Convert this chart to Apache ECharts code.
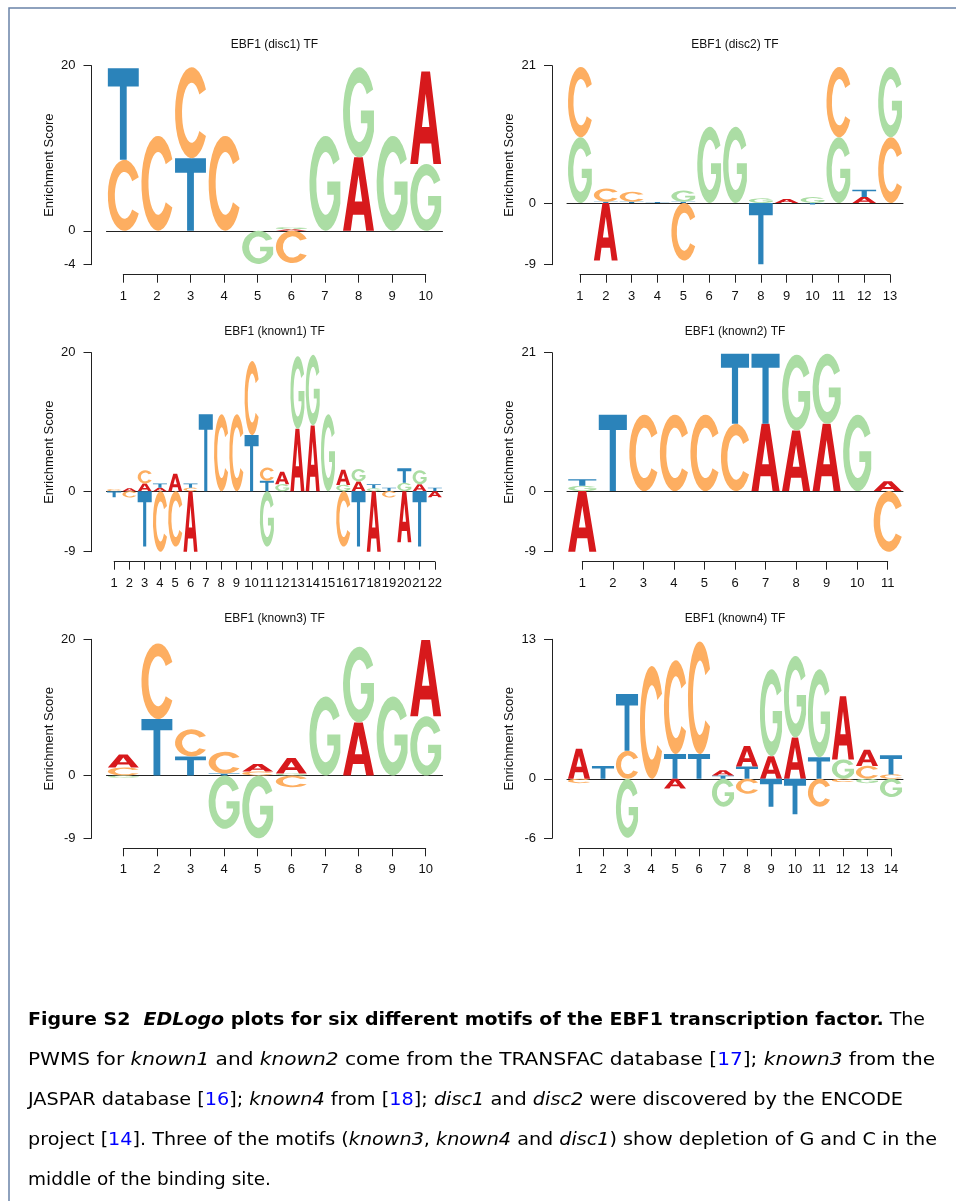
<!DOCTYPE html>
<html>
<head>
<meta charset="utf-8">
<script src="https://cdn.jsdelivr.net/npm/echarts@6/dist/echarts.min.js"></script>
<style>
html, body { margin: 0; padding: 0; background: #fff; }
#main { width: 956px; height: 1201px; }
</style>
</head>
<body>
<div id="main"></div>
<script>
// enrichment score of each letter per position (negative = depleted, drawn below 0)
var disc1A = [0, 0, 0, 0, 0, 0.2, 0, 8.9, 0, 11.2];
var disc1C = [8.6, 11.5, 11.0, 11.5, 0, -3.9, 0, 0, 0, 0];
var disc1G = [0, 0, 0, 0, -4.0, 0.25, 11.5, 10.9, 11.5, 8.1];
var disc1T = [11.1, 0, 8.8, 0, 0, 0, 0, 0, 0, 0];

var disc2A = [0, -8.75, 0, 0, 0, 0, 0, 0, 0.6, 0, 0, 0.9, 0];
var disc2C = [10.7, 2.0, 1.5, 0, -8.75, 0, 0, 0, 0, 0, 10.7, 0, 10.0];
var disc2G = [10.0, 0, 0, 0, 1.7, 11.6, 11.6, 0.7, 0, 0.9, 10.0, 0, 10.7];
var disc2T = [0, 0.2, 0.2, 0.15, 0.2, 0, 0, -9.35, 0, -0.25, 0, 1.1, 0];

var known1A = [0, 0.4, 1.1, 0.5, 2.5, -8.75, 0, 0, 0, 0, 0, 1.8, 9.0, 9.5, 0, 2.2, 1.4, -8.75, 0, -7.4, 1.0, -0.9];
var known1C = [0.3, -0.9, 1.9, -8.75, -8.0, 0.5, 0, 11.1, 11.1, 10.7, 1.9, 0, 0, 0, 0, -8.0, 0, 0, -0.9, 0, 0, 0];
var known1G = [0, 0, 0, 0, 0, 0, 0, 0, 0, 0, -8.0, 1.0, 10.5, 10.2, 11.1, 0.9, 1.8, 0.4, 0, 1.2, 2.0, 0];
var known1T = [-0.9, 0, -8.0, 0.6, 0, 0.6, 11.1, 0, 0, 8.1, 1.5, 0, 0, 0, 0, 0, -8.0, 0.6, 0.5, 2.1, -8.0, 0.5];

var known2A = [-9.2, 0, 0, 0, 0, 0, 10.2, 9.2, 10.2, 0, 1.5];
var known2C = [0, 0, 11.6, 11.6, 11.6, 10.2, 0, 0, 0, 0, -9.2];
var known2G = [0.8, 0, 0, 0, 0, 0, 0, 11.5, 10.65, 11.6, 0];
var known2T = [1.0, 11.6, 0, 0, 0, 10.65, 10.65, 0, 0, 0, 0];

var known3A = [1.9, 0, 0, 0, 1.1, 2.3, 0, 7.8, 0, 11.2];
var known3C = [1.2, 11.1, 4.0, 3.2, 0.6, -1.7, 0, 0, 0, 0];
var known3G = [-0.3, 0, 0, -7.8, -9.2, 0.3, 11.6, 11.1, 11.6, 8.7];
var known3T = [0, 8.3, 2.8, 0.3, 0, 0, 0, 0, 0, 0];

var known4A = [2.8, 0, 0, 0, -0.9, 0, 0.5, 1.9, 2.1, 3.85, 0, 5.9, 1.5, 0];
var known4C = [-0.4, 0, 2.6, 10.5, 8.75, 10.5, 0, -1.4, 0, 0, -2.6, -0.3, 1.2, 0.4];
var known4G = [0, 0, -5.5, 0, 0, 0, -2.6, 0, 8.1, 7.6, 8.2, 1.8, -0.4, -1.7];
var known4T = [0, 1.2, 5.3, 0, 2.3, 2.3, 0.3, 1.15, -2.6, -3.3, 2.0, 0, 0, 1.8];

var titles = ['EBF1 (disc1) TF', 'EBF1 (disc2) TF', 'EBF1 (known1) TF',
              'EBF1 (known2) TF', 'EBF1 (known3) TF', 'EBF1 (known4) TF'];
var yMins = [-4.1, -9.4, -8.75, -9.2, -9.2, -5.55];
var yMaxs = [20, 20.9, 20, 21, 20, 13];
var yTickLabels = [['-4', '0', '20'], ['-9', '0', '21'], ['-9', '0', '20'],
                   ['-9', '0', '21'], ['-9', '0', '20'], ['-6', '0', '13']];

var panelLetters = [
    [disc1A, disc1C, disc1G, disc1T],
    [disc2A, disc2C, disc2G, disc2T],
    [known1A, known1C, known1G, known1T],
    [known2A, known2C, known2G, known2T],
    [known3A, known3C, known3G, known3T],
    [known4A, known4C, known4G, known4T]
];

var letterColors = ['#D7191C', '#FDAE61', '#ABDDA4', '#2B83BA'];
// glyphs in a 100x100 box, stretched to the cell
var letterPaths = [
    'M0,100 L36,0 L64,0 L100,100 L75,100 L68,78 L32,78 L25,100 Z M38,60 L62,60 L50,24 Z',
    'M93,24.5 A50,50 0 1 0 93,75.5 L73.1,70 A29,33 0 1 1 73.1,30 Z',
    'M93,24.5 A50,50 0 1 0 95.3,71.1 L95.3,48 L55,48 L55,62 L75,62 L75,66.7 A29,33 0 1 1 73.1,30 Z',
    'M0,0 L100,0 L100,20 L61,20 L61,100 L39,100 L39,20 L0,20 Z'
];

var colLeft = [106.5, 567];
var plotW = 336;
var rowTop = [65.7, 352.7, 639.3];
var plotH = 199;

function stackLetters(arrs) {
    var items = [];
    var n = arrs[0].length;
    for (var i = 0; i < n; i++) {
        var pos = [], neg = [];
        for (var k = 0; k < 4; k++) {
            var v = arrs[k][i];
            if (v > 0) pos.push([k, v]);
            else if (v < 0) neg.push([k, v]);
        }
        pos.sort(function (a, b) { return a[1] - b[1]; });
        neg.sort(function (a, b) { return b[1] - a[1]; });
        var base = 0;
        pos.forEach(function (p) { items.push([i + 1, base, base + p[1], p[0]]); base += p[1]; });
        base = 0;
        neg.forEach(function (p) { items.push([i + 1, base + p[1], base, p[0]]); base += p[1]; });
    }
    return items;
}

function renderLetter(params, api) {
    var x = api.value(0), lo = api.value(1), hi = api.value(2), k = api.value(3);
    var p1 = api.coord([x - 0.46, hi]);
    var p2 = api.coord([x + 0.46, lo]);
    return {
        type: 'path',
        shape: {
            pathData: letterPaths[k],
            x: p1[0], y: p1[1],
            width: p2[0] - p1[0], height: Math.max(p2[1] - p1[1], 0.3),
            layout: 'cover'
        },
        style: { fill: letterColors[k] }
    };
}

function makeYFormatter(lb) {
    return function (v) { return v === 0 ? lb[1] : (v < 0 ? lb[0] : lb[2]); };
}

var axisFont = 'Liberation Sans';
var grid = [], xAxis = [], yAxis = [], series = [], title = [];

for (var p = 0; p < 6; p++) {
    var n = panelLetters[p][0].length;
    var gLeft = colLeft[p % 2], gTop = rowTop[Math.floor(p / 2)];
    var yMin = yMins[p], yMax = yMaxs[p];

    grid.push({ left: gLeft, top: gTop, width: plotW, height: plotH });
    title.push({
        text: titles[p], left: gLeft + plotW / 2, top: gTop - 27, textAlign: 'center', padding: 0,
        textStyle: { fontSize: 12, fontWeight: 'normal', color: '#111', fontFamily: axisFont }
    });
    xAxis.push({
        gridIndex: p, type: 'value', min: 0.5, max: n + 0.5,
        axisLine: { show: true, onZero: true, lineStyle: { color: '#222', width: 1 } },
        axisTick: { show: false }, axisLabel: { show: false }, splitLine: { show: false }
    });
    yAxis.push({
        gridIndex: p, type: 'value', min: yMin, max: yMax, offset: 15,
        name: 'Enrichment Score', nameLocation: 'middle', nameGap: 36,
        nameTextStyle: { fontSize: 13, color: '#111', fontFamily: axisFont },
        axisLine: { show: true, lineStyle: { color: '#222', width: 1 } },
        axisTick: { show: true, length: 8, customValues: [yMin, 0, yMax], lineStyle: { color: '#222' } },
        axisLabel: {
            customValues: [yMin, 0, yMax], margin: 16, fontSize: 13, color: '#111', fontFamily: axisFont,
            formatter: makeYFormatter(yTickLabels[p])
        },
        splitLine: { show: false }
    });
    series.push({
        type: 'custom', xAxisIndex: p, yAxisIndex: p,
        renderItem: renderLetter, encode: { x: 0, y: [1, 2] },
        data: stackLetters(panelLetters[p])
    });
}

// separate R-style position axes, running from the first to the last position
for (var q = 0; q < 6; q++) {
    var nn = panelLetters[q][0].length;
    var aLeft = colLeft[q % 2], aTop = rowTop[Math.floor(q / 2)];
    var st = plotW / nn;
    grid.push({ left: aLeft + st / 2, top: aTop + plotH + 9, width: plotW - st, height: 1 });
    xAxis.push({
        gridIndex: 6 + q, type: 'value', min: 1, max: nn, interval: 1, position: 'bottom',
        axisLine: { show: true, onZero: false, lineStyle: { color: '#222', width: 1 } },
        axisTick: { show: true, length: 8, lineStyle: { color: '#222' } },
        axisLabel: { margin: 15, fontSize: 13, color: '#111', fontFamily: axisFont },
        splitLine: { show: false }
    });
    yAxis.push({ gridIndex: 6 + q, type: 'value', min: 0, max: 1, show: false });
}

var captionLines = [
    '{b|Figure S2  }{bi|EDLogo}{b| plots for six different motifs of the EBF1 transcription factor.} The',
    'PWMS for {i|known1} and {i|known2} come from the TRANSFAC database [{l|17}]; {i|known3} from the',
    'JASPAR database [{l|16}]; {i|known4} from [{l|18}]; {i|disc1} and {i|disc2} were discovered by the ENCODE',
    'project [{l|14}]. Three of the motifs ({i|known3}, {i|known4} and {i|disc1}) show depletion of G and C in the',
    'middle of the binding site.'
];
var captionY = [1020, 1060, 1100, 1140.5, 1180];
var captionRight = [925, 935, 903, 937, 271];
var captionLeft = 28;

var capFont = 'DejaVu Sans';
var capSize = 18.5;
var capStyles = {
    n: { fontFamily: capFont, fontSize: capSize, fill: '#000' },
    b: { fontFamily: capFont, fontWeight: 'bold', fontSize: capSize, fill: '#000' },
    bi: { fontFamily: capFont, fontWeight: 'bold', fontStyle: 'italic', fontSize: capSize, fill: '#000' },
    i: { fontFamily: capFont, fontStyle: 'italic', fontSize: capSize, fill: '#000' },
    l: { fontFamily: capFont, fontSize: capSize, fill: '#0000ff' }
};

// measure each caption line so it can be stretched to the reference's line length
var measureCtx = document.createElement('canvas').getContext('2d');
function captionWidth(t) {
    var re = /\{(\w+)\|([^}]*)\}|([^{]+)/g, m, w = 0;
    while ((m = re.exec(t))) {
        var s = capStyles[m[1] || 'n'];
        measureCtx.font = (s.fontStyle || '') + ' ' + (s.fontWeight || '') + ' ' + s.fontSize + 'px "' + s.fontFamily + '"';
        w += measureCtx.measureText(m[1] ? m[2] : m[3]).width;
    }
    return w;
}

var graphic = [{
    type: 'rect', silent: true,
    shape: { x: 9, y: 8, width: 1000, height: 1300 },
    style: { fill: 'none', stroke: '#6a83a8', lineWidth: 1.5 }
}];
captionLines.forEach(function (t, i) {
    var sx = (captionRight[i] - captionLeft) / captionWidth(t);
    graphic.push({
        type: 'text', x: captionLeft, y: captionY[i], scaleX: sx,
        style: {
            text: t, rich: { b: capStyles.b, bi: capStyles.bi, i: capStyles.i, l: capStyles.l },
            fill: '#000', fontFamily: capFont, fontSize: capSize,
            verticalAlign: 'middle'
        }
    });
});

var dom = document.getElementById('main');
var myChart = echarts.init(dom, null, { renderer: 'canvas' });
var option = {
    backgroundColor: '#fff',
    animation: false,
    title: title,
    grid: grid,
    xAxis: xAxis,
    yAxis: yAxis,
    series: series,
    graphic: graphic
};
myChart.setOption(option, true);
</script>
</body>
</html>
